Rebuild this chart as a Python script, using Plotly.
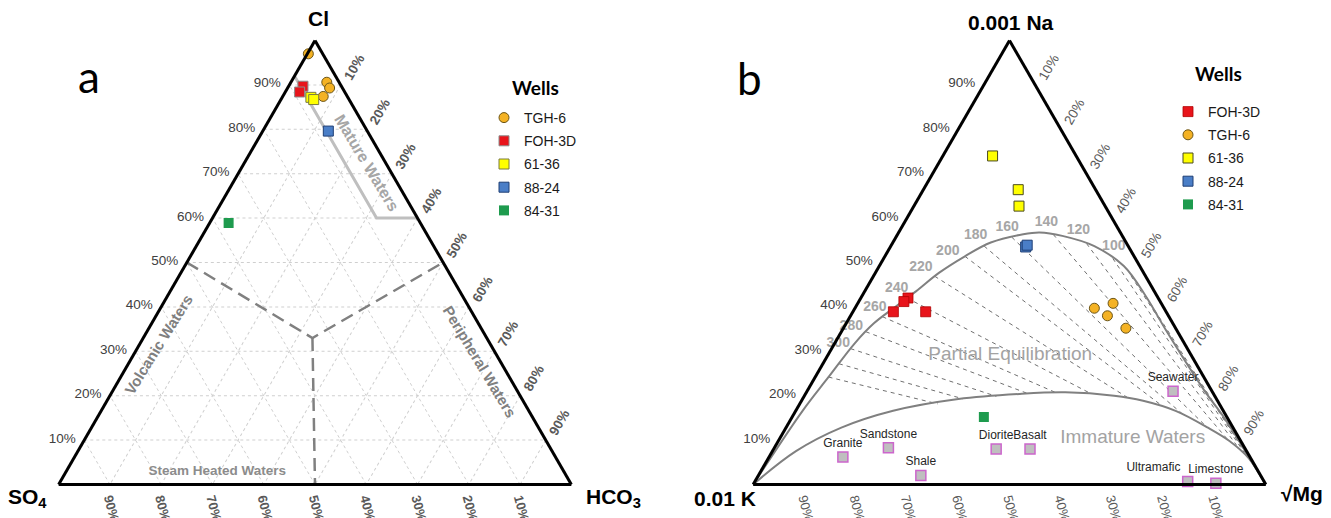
import math
import plotly.graph_objects as go

# page body has an 8px margin: figure is sized to fill the rest of the 1331x518 window
OFF = 8
W, H = 1331 - OFF, 518 - OFF
FONT = "Liberation Sans, Arial, sans-serif"

# ---------------- Panel a : Cl - SO4 - HCO3 (fractions) ----------------
tgh6_a_cl = [0.970, 0.906, 0.893, 0.874]
tgh6_a_so4 = [0.028, 0.024, 0.025, 0.047]
tgh6_a_hco3 = [0.002, 0.070, 0.082, 0.079]

foh3d_a_cl = [0.897, 0.884]
foh3d_a_so4 = [0.075, 0.088]
foh3d_a_hco3 = [0.028, 0.028]

w6136_a_cl = [0.872, 0.867]
w6136_a_so4 = [0.072, 0.069]
w6136_a_hco3 = [0.056, 0.064]

w8824_a_cl = [0.796]
w8824_a_so4 = [0.076]
w8824_a_hco3 = [0.128]

w8431_a_cl = [0.589]
w8431_a_so4 = [0.374]
w8431_a_hco3 = [0.037]

# Mature waters boundary (solid light gray)
mature_cl = [0.92, 0.60, 0.60]
mature_so4 = [0.08, 0.08, 0.00]
mature_hco3 = [0.00, 0.32, 0.40]

# Dashed field boundaries
bound_cl = [0.50, 0.33, 0.50, None, 0.33, 0.00]
bound_so4 = [0.50, 0.34, 0.00, None, 0.34, 0.50]
bound_hco3 = [0.00, 0.33, 0.50, None, 0.33, 0.50]

# ---------------- Panel b : Na/1000 - K/100 - sqrt(Mg) ----------------
foh3d_b_na = [0.420, 0.412, 0.389, 0.389]
foh3d_b_k = [0.488, 0.500, 0.532, 0.469]
foh3d_b_mg = [0.092, 0.088, 0.079, 0.142]

tgh6_b_na = [0.397, 0.408, 0.380, 0.352]
tgh6_b_k = [0.136, 0.094, 0.119, 0.097]
tgh6_b_mg = [0.467, 0.498, 0.501, 0.551]

w6136_b_na = [0.740, 0.664, 0.627]
w6136_b_k = [0.163, 0.151, 0.168]
w6136_b_mg = [0.097, 0.185, 0.205]

w8824_b_na = [0.535, 0.539]
w8824_b_k = [0.201, 0.196]
w8824_b_mg = [0.264, 0.265]

w8431_b_na = [0.152]
w8431_b_k = [0.474]
w8431_b_mg = [0.374]

rock_names = ["Granite", "Sandstone", "Shale", "Diorite", "Basalt", "Ultramafic", "Limestone", "Seawater"]
rock_na = [0.062, 0.0825, 0.0205, 0.080, 0.080, 0.0068, 0.003, 0.210]
rock_k = [0.794, 0.695, 0.663, 0.486, 0.420, 0.149, 0.096, 0.076]
rock_mg = [0.144, 0.2226, 0.317, 0.434, 0.500, 0.844, 0.901, 0.714]
rock_textpos = ["top center", "top center", "top center", "top center", "top center",
                "top left", "top center", "top center"]

# Full equilibrium curve
full_na = [0, 0.166, 0.2416, 0.3175, 0.363, 0.397, 0.435, 0.4766, 0.514, 0.545, 0.5636,
           0.5675, 0.560, 0.537, 0.492, 0.423, 0.348, 0.211, 0.151, 0.060, 0]
full_k = [1, 0.8206, 0.7324, 0.6435, 0.583, 0.528, 0.465, 0.3994, 0.330, 0.264, 0.1914,
          0.1575, 0.117, 0.066, 0.031, 0.022, 0.021, 0.014, 0.006, 0.002, 0]
full_mg = [0, 0.0134, 0.026, 0.039, 0.054, 0.075, 0.100, 0.124, 0.156, 0.191, 0.245,
           0.275, 0.323, 0.397, 0.477, 0.555, 0.631, 0.775, 0.843, 0.938, 1]

# Immature waters curve
imm_na = [0, 0.075, 0.128, 0.166, 0.1925, 0.204, 0.2075, 0.200, 0.1886, 0.166, 0.128, 0.098, 0.060, 0]
imm_k = [1, 0.879, 0.764, 0.644, 0.5035, 0.378, 0.2875, 0.196, 0.145, 0.093, 0.049, 0.022, 0.004, 0]
imm_mg = [0, 0.046, 0.108, 0.190, 0.304, 0.418, 0.505, 0.604, 0.666, 0.741, 0.823, 0.880, 0.936, 1]

# Na-K isotherms (deg C): start on full-equilibrium curve, end on immature curve
iso_temps = [340, 320, 300, 280, 260, 240, 220, 200, 180, 160, 140, 120, 100, 80, 60]
iso_start_na = [0.242, 0.272, 0.306, 0.344, 0.378, 0.420, 0.469, 0.514, 0.537, 0.557, 0.563, 0.5426, 0.509, 0.470, 0.423]
iso_start_k = [0.732, 0.6968, 0.657, 0.608, 0.559, 0.490, 0.4114, 0.330, 0.281, 0.217, 0.133, 0.0784, 0.044, 0.028, 0.022]
iso_start_mg = [0.026, 0.0312, 0.037, 0.0477, 0.0633, 0.090, 0.1196, 0.156, 0.182, 0.226, 0.304, 0.379, 0.447, 0.502, 0.555]
iso_end_na = [0.1815, 0.1931, 0.1986, 0.2045, 0.2066, 0.2041, 0.1951, 0.1766, 0.1602, 0.130, 0.1015, 0.0891, 0.0724, 0.058, 0.055]
iso_end_k = [0.549, 0.4946, 0.4264, 0.3614, 0.3056, 0.2382, 0.1711, 0.1134, 0.0838, 0.0506, 0.024, 0.0129, 0.00626, 0.00345, 0.00286]
iso_end_mg = [0.2695, 0.3123, 0.375, 0.4341, 0.4878, 0.5577, 0.6338, 0.71, 0.756, 0.8194, 0.8745, 0.898, 0.9213, 0.9386, 0.9421]
iso_lab_na = [0.2455, 0.2834, 0.3175, 0.3552, 0.3993, 0.4425, 0.488, 0.5243, 0.5598, 0.5789, 0.590, 0.5727, 0.537, 0.480, 0.4348]
iso_lab_k = [0.762, 0.718, 0.675, 0.631, 0.563, 0.499, 0.429, 0.358, 0.286, 0.215, 0.133, 0.079, 0.028, -0.004, -0.026]
iso_lab_mg = [-0.0074, -0.001, 0.0072, 0.0138, 0.038, 0.0587, 0.0834, 0.1173, 0.1539, 0.2059, 0.2767, 0.348, 0.4347, 0.5238, 0.5908]

tick_vals = [0.1, 0.2, 0.3, 0.4, 0.5, 0.6, 0.7, 0.8, 0.9]

# ---------------- geometry helpers ----------------
TRI_H = 444.0           # triangle height in px
YC = 262.5              # triangle centre (window px)


def dom_for(xc_win):
    xc = (xc_win - OFF) / W
    yc = 1 - (YC - OFF) / H
    hh = TRI_H / 2 / H
    return dict(x=[xc - 0.205, xc + 0.205], y=[yc - hh, yc + hh])


DOM_A = dom_for(315.0)
DOM_B = dom_for(1009.5)


def tern_paper(a, b, c, dom):
    s = a + b + c
    a, b, c = a / s, b / s, c / s
    wmax = (dom["x"][1] - dom["x"][0]) * W
    hmax = (dom["y"][1] - dom["y"][0]) * H
    r = 2 / math.sqrt(3)
    if wmax > hmax * r:
        h = hmax
        w = h * r
    else:
        w = wmax
        h = w / r
    x0 = W * (dom["x"][0] + dom["x"][1]) / 2 - w / 2
    y0 = H * (1 - (dom["y"][0] + dom["y"][1]) / 2) - h / 2
    px = x0 + w * (c + a / 2)
    py = y0 + h * (1 - a)
    return px / W, 1 - py / H


def win(x, y):
    """window pixel -> paper fraction"""
    return (x - OFF) / W, 1 - (y - OFF) / H


def segs(starts, ends):
    out = []
    for s, e in zip(starts, ends):
        out += [s, e, None]
    return out


fig = go.Figure()

# ---------- panel a traces ----------
fig.add_trace(go.Scatterternary(
    subplot="ternary", a=mature_cl, b=mature_so4, c=mature_hco3, mode="lines",
    line=dict(color="#bfbfbf", width=3), showlegend=False, hoverinfo="skip"))
fig.add_trace(go.Scatterternary(
    subplot="ternary", a=bound_cl, b=bound_so4, c=bound_hco3, mode="lines",
    line=dict(color="#808080", width=2.5, dash="13px,7px"), showlegend=False, hoverinfo="skip"))
fig.add_trace(go.Scatterternary(
    subplot="ternary", a=[0.029], b=[0.676], c=[0.295], mode="text",
    text=["Steam Heated Waters"], textposition="middle center", cliponaxis=False,
    textfont=dict(family=FONT, size=13.5, color="#8c8c8c", weight="bold"),
    showlegend=False, hoverinfo="skip"))

wells_a = [
    ("TGH-6", tgh6_a_cl, tgh6_a_so4, tgh6_a_hco3, "circle", "#F4B224", "#6b5518", 1),
    ("FOH-3D", foh3d_a_cl, foh3d_a_so4, foh3d_a_hco3, "square", "#E8141B", "#8c8c8c", 1),
    ("61-36", w6136_a_cl, w6136_a_so4, w6136_a_hco3, "square", "#FFFF00", "#7a7a40", 1),
    ("88-24", w8824_a_cl, w8824_a_so4, w8824_a_hco3, "square", "#4A7EC7", "#1f3f75", 1),
    ("84-31", w8431_a_cl, w8431_a_so4, w8431_a_hco3, "square", "#1E9B4E", "#1E9B4E", 0),
]
for name, aa, bb, cc, sym, col, lcol, lw in wells_a:
    fig.add_trace(go.Scatterternary(
        subplot="ternary", a=aa, b=bb, c=cc, mode="markers", name=name,
        legend="legend", legendgroup="a_" + name,
        marker=dict(symbol=sym, size=10, color=col, line=dict(color=lcol, width=lw)),
        cliponaxis=False))

# ---------- panel b traces ----------
fig.add_trace(go.Scatterternary(
    subplot="ternary2", a=segs(iso_start_na, iso_end_na), b=segs(iso_start_k, iso_end_k),
    c=segs(iso_start_mg, iso_end_mg), mode="lines",
    line=dict(color="#707070", width=1, dash="4px,4px"), showlegend=False, hoverinfo="skip"))
fig.add_trace(go.Scatterternary(
    subplot="ternary2", a=full_na, b=full_k, c=full_mg, mode="lines",
    line=dict(color="#808080", width=2, shape="spline"), showlegend=False, hoverinfo="skip"))
fig.add_trace(go.Scatterternary(
    subplot="ternary2", a=imm_na, b=imm_k, c=imm_mg, mode="lines",
    line=dict(color="#808080", width=2, shape="spline"), showlegend=False, hoverinfo="skip"))
fig.add_trace(go.Scatterternary(
    subplot="ternary2", a=iso_lab_na, b=iso_lab_k, c=iso_lab_mg, mode="text",
    text=[str(t) for t in iso_temps], textposition="middle center", cliponaxis=False,
    textfont=dict(family=FONT, size=14, color="#a6a6a6", weight="bold"),
    showlegend=False, hoverinfo="skip"))
fig.add_trace(go.Scatterternary(
    subplot="ternary2", a=[0.291, 0.1052], b=[0.353, 0.207], c=[0.3558, 0.6875], mode="text",
    text=["Partial Equilibration", "Immature Waters"], textposition="middle center",
    cliponaxis=False, textfont=dict(family=FONT, size=19, color="#a3a3a3"),
    showlegend=False, hoverinfo="skip"))
fig.add_trace(go.Scatterternary(
    subplot="ternary2", a=rock_na, b=rock_k, c=rock_mg, mode="markers+text",
    text=rock_names, textposition=rock_textpos, cliponaxis=False,
    textfont=dict(family=FONT, size=12, color="#262626"),
    marker=dict(symbol="square", size=10, color="#BFBFBF", line=dict(color="#CC66CC", width=1.5)),
    showlegend=False, hoverinfo="text"))

wells_b = [
    ("FOH-3D", foh3d_b_na, foh3d_b_k, foh3d_b_mg, "square", "#E8141B", "#b00000", 0.8),
    ("TGH-6", tgh6_b_na, tgh6_b_k, tgh6_b_mg, "circle", "#F4B224", "#6b5518", 1),
    ("61-36", w6136_b_na, w6136_b_k, w6136_b_mg, "square", "#FFFF00", "#4a4a20", 1),
    ("88-24", w8824_b_na, w8824_b_k, w8824_b_mg, "square", "#4A7EC7", "#1f3f75", 1),
    ("84-31", w8431_b_na, w8431_b_k, w8431_b_mg, "square", "#1E9B4E", "#1E9B4E", 0),
]
for name, aa, bb, cc, sym, col, lcol, lw in wells_b:
    fig.add_trace(go.Scatterternary(
        subplot="ternary2", a=aa, b=bb, c=cc, mode="markers", name=name,
        legend="legend2", legendgroup="b_" + name,
        marker=dict(symbol=sym, size=10, color=col, line=dict(color=lcol, width=lw)),
        cliponaxis=False))


def axis(color, bold, angle, grid, pad, size=13.5):
    d = dict(
        tickvals=tick_vals, tickformat=".0%", showline=True,
        linecolor="black", linewidth=3, tickangle=angle,
        tickfont=dict(family=FONT, size=size, color=color, weight="bold" if bold else "normal"),
        showgrid=grid, title=dict(text=""),
    )
    if pad > 0:
        d.update(ticks="outside", ticklen=pad, tickcolor="rgba(0,0,0,0)")
    else:
        d.update(ticks="")
    if grid:
        d.update(gridcolor="#cfcfcf", gridwidth=1, griddash="dot")
    return d


lx_a, ly_a = win(484, 102)
lx_b, ly_b = win(1168, 96)
fig.update_layout(
    width=W, height=H, margin=dict(l=0, r=0, t=0, b=0),
    paper_bgcolor="white", font=dict(family=FONT),
    ternary=dict(domain=DOM_A, sum=1, bgcolor="white",
                 aaxis=axis("#404040", False, 0, True, 5),
                 baxis=axis("#595959", True, 75, True, 0, 13),
                 caxis=axis("#595959", True, -60, True, 3)),
    ternary2=dict(domain=DOM_B, sum=1, bgcolor="white",
                  aaxis=axis("#404040", False, 0, False, 5),
                  baxis=axis("#595959", False, 75, False, 0, 13),
                  caxis=axis("#595959", False, -60, False, 3)),
    legend=dict(x=lx_a, y=ly_a, xanchor="left", yanchor="top",
                font=dict(family=FONT, size=14, color="#1a1a1a"),
                bgcolor="rgba(0,0,0,0)", tracegroupgap=2, itemclick=False),
    legend2=dict(x=lx_b, y=ly_b, xanchor="left", yanchor="top",
                 font=dict(family=FONT, size=14, color="#1a1a1a"),
                 bgcolor="rgba(0,0,0,0)", tracegroupgap=2, itemclick=False),
)

ann = []


def add_ann(text, a, b, c, dom, size, color, bold=True, angle=0, xs=0, ys=0, family=FONT):
    x, y = tern_paper(a, b, c, dom)
    ann.append(dict(x=x, y=y, xref="paper", yref="paper", text=text, showarrow=False,
                    textangle=angle, xanchor="center", yanchor="middle", xshift=xs, yshift=ys,
                    font=dict(family=family, size=size, color=color,
                              weight="bold" if bold else "normal")))


def add_win(text, x, y, size, bold=False, family="Lato"):
    px, py = win(x, y)
    ann.append(dict(x=px, y=py, xref="paper", yref="paper", text=text, showarrow=False,
                    xanchor="center", yanchor="middle",
                    font=dict(family=family, size=size, color="black",
                              weight="bold" if bold else "normal")))


# vertex labels
add_ann("Cl", 1, 0, 0, DOM_A, 21, "black", xs=3, ys=22)
add_ann("SO<sub>4</sub>", 0, 1, 0, DOM_A, 21, "black", xs=-31, ys=-13)
add_ann("HCO<sub>3</sub>", 0, 0, 1, DOM_A, 21, "black", xs=42, ys=-13)
add_ann("0.001 Na", 1, 0, 0, DOM_B, 21, "black", xs=1, ys=18)
add_ann("0.01 K", 0, 1, 0, DOM_B, 21, "black", xs=-28, ys=-13.5)
add_ann("√Mg", 0, 0, 1, DOM_B, 21, "black", xs=36, ys=-8.5)

# field labels in panel a (rotated)
add_ann("Mature Waters", 0.7253, 0.037, 0.238, DOM_A, 16, "#a6a6a6", angle=59)
add_ann("Volcanic Waters", 0.3144, 0.648, 0.038, DOM_A, 15, "#808080", angle=-58)
add_ann("Peripheral Waters", 0.2765, 0.041, 0.683, DOM_A, 15, "#808080", angle=59)

# panel letters and legend headers
add_win("a", 89, 76, 44)
add_win("b", 749, 78, 44)
add_win("Wells", 535, 87, 19, bold=True)
add_win("Wells", 1218.5, 73.5, 19, bold=True)

fig.update_layout(annotations=ann)
fig.write_html("out.html")
